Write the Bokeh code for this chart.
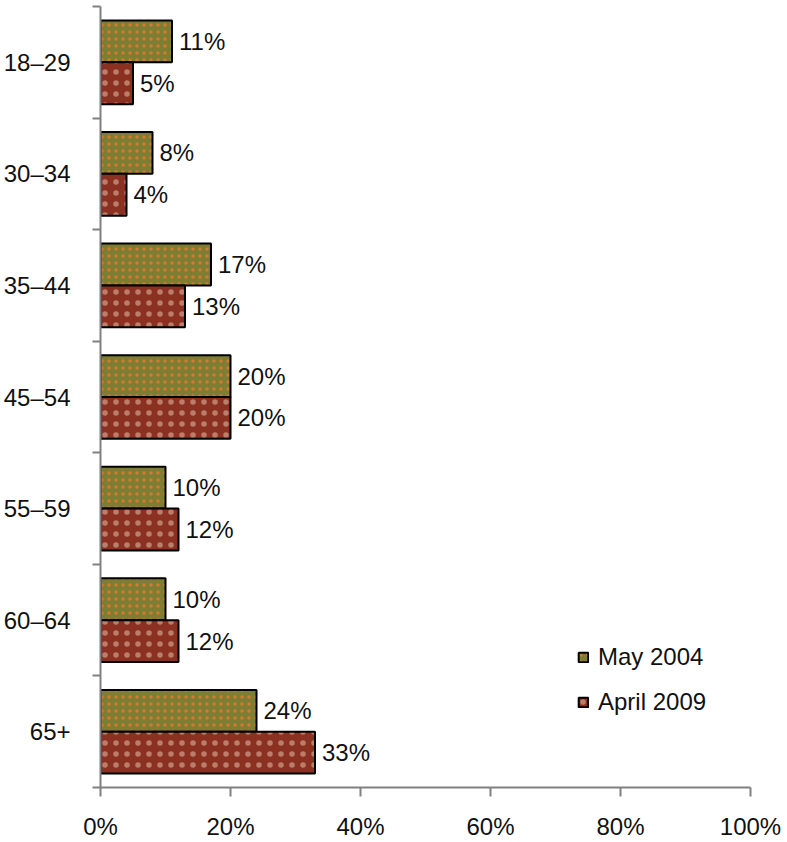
from bokeh.plotting import figure
from bokeh.models import Range1d, FixedTicker, ColumnDataSource, Legend, LegendItem
from bokeh.core.properties import value
from bokeh.embed import file_html
from bokeh.resources import INLINE

categories = ["18–29", "30–34", "35–44", "45–54", "55–59", "60–64", "65+"]
may_2004 = [11, 8, 17, 20, 10, 10, 24]
april_2009 = [5, 4, 13, 20, 12, 12, 33]
x_ticks = [0, 20, 40, 60, 80, 100]
series_names = ["May 2004", "April 2009"]

FONT = "Liberation Sans"
n = len(categories)
idx = list(range(n))

p = figure(width=787, height=842, output_backend="svg", toolbar_location=None,
           x_range=Range1d(0, 100), y_range=Range1d(n, 0),
           min_border_left=100, min_border_right=37, min_border_top=6, min_border_bottom=53)
p.outline_line_color = None
p.grid.grid_line_color = None
p.background_fill_color = "white"

bar_h = 0.375
src_a = ColumnDataSource(dict(y=[i + 0.5 - bar_h / 2 for i in idx], v=may_2004,
                              lab=[f"{v}%" for v in may_2004]))
src_b = ColumnDataSource(dict(y=[i + 0.5 + bar_h / 2 for i in idx], v=april_2009,
                              lab=[f"{v}%" for v in april_2009]))

ra = p.hbar(y="y", right="v", left=0, height=bar_h, source=src_a,
            fill_color="#7d7d33", line_color="black", line_width=2,
            hatch_pattern="dot", hatch_color="#f07a2a", hatch_scale=7, hatch_weight=0.5,
            hatch_alpha=0.75)
rb = p.hbar(y="y", right="v", left=0, height=bar_h, source=src_b,
            fill_color="#8b3121", line_color="black", line_width=2,
            hatch_pattern="dot", hatch_color="#f6dcc4", hatch_scale=11, hatch_weight=0.5,
            hatch_alpha=0.45)

for src in (src_a, src_b):
    p.text(x="v", y="y", text="lab", source=src, x_offset=7,
           text_baseline="middle", text_align="left",
           text_font=value(FONT), text_font_size="24px", text_color="#111111")

# x axis
xa = p.xaxis[0]
xa.ticker = FixedTicker(ticks=x_ticks)
xa.major_label_overrides = {t: f"{t}%" for t in x_ticks}
xa.axis_line_color = "#808080"
xa.axis_line_width = 2
xa.major_tick_line_color = "#808080"
xa.major_tick_line_width = 2
xa.major_tick_out = 9
xa.major_tick_in = 0
xa.minor_tick_line_color = None
xa.major_label_text_font = FONT
xa.major_label_text_font_size = "24px"
xa.major_label_text_color = "#111111"
xa.major_label_standoff = 16

# y axis
ya = p.yaxis[0]
ya.ticker = FixedTicker(ticks=[i + 0.5 for i in idx], minor_ticks=list(range(n + 1)))
ya.major_label_overrides = {i + 0.5: c for i, c in enumerate(categories)}
ya.axis_line_color = "#808080"
ya.axis_line_width = 2
ya.major_tick_line_color = None
ya.major_tick_out = 0
ya.major_tick_in = 0
ya.minor_tick_line_color = "#808080"
ya.minor_tick_line_width = 2
ya.minor_tick_out = 8
ya.minor_tick_in = 0
ya.major_label_text_font = FONT
ya.major_label_text_font_size = "24px"
ya.major_label_text_color = "#111111"
ya.major_label_standoff = 22

legend = Legend(items=[LegendItem(label=series_names[0], renderers=[ra]),
                       LegendItem(label=series_names[1], renderers=[rb])],
                location=(477, 71), orientation="vertical",
                glyph_width=12, glyph_height=12, label_height=24, spacing=17,
                padding=0, margin=0, label_standoff=9,
                label_text_font=FONT, label_text_font_size="24px", label_text_color="#111111",
                border_line_color=None, background_fill_alpha=0)
p.add_layout(legend, "center")

open("out.html", "w").write(file_html(p, INLINE))
